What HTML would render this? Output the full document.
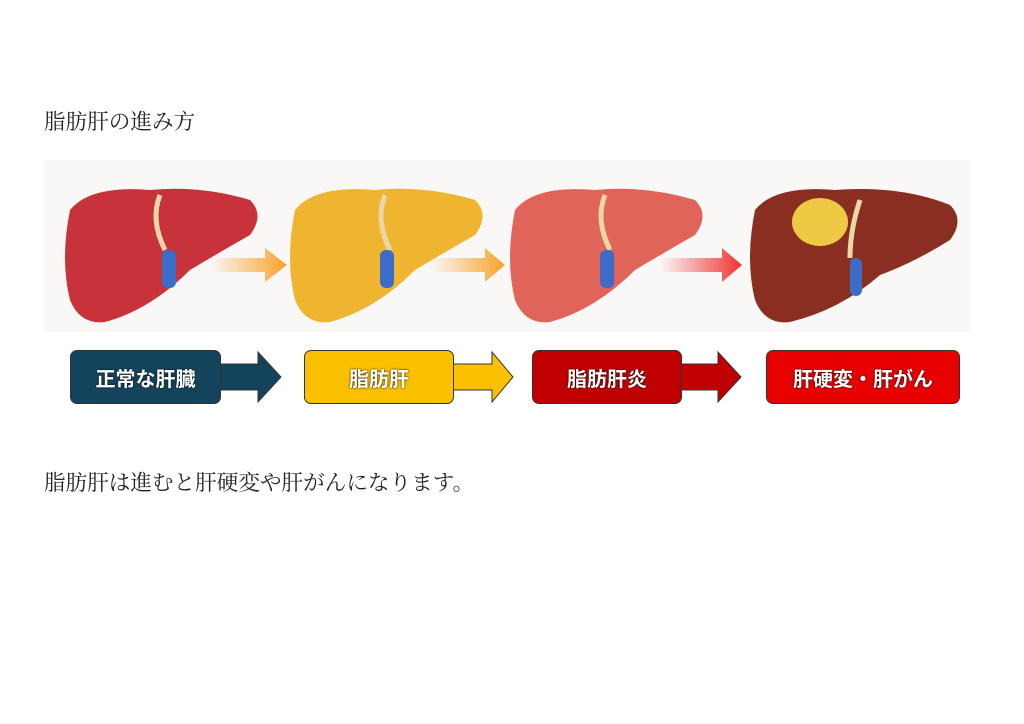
<!DOCTYPE html>
<html><head><meta charset="utf-8"><style>
body{margin:0;width:1024px;height:724px;background:#fff;position:relative;overflow:hidden;font-family:"Liberation Serif","Noto Serif CJK SC",serif}
.t{position:absolute;left:44px;font-size:21.6px;color:#222;white-space:nowrap}
.b{position:absolute;top:350px;height:54px;border-radius:7px;border:1px solid #333;box-sizing:border-box;color:#fff;font-family:"Liberation Sans","Noto Sans CJK JP",sans-serif;font-weight:bold;font-size:20px;display:flex;align-items:center;justify-content:center;text-shadow:0 0 2px #000}
</style></head><body>
<div class="t" style="top:105px">脂肪肝の進み方</div>
<svg style="position:absolute;left:0;top:0" width="1024" height="724">
<defs>
<linearGradient id="a1" x1="0" x2="1"><stop offset="0" stop-color="#f7a32a" stop-opacity="0"/><stop offset="1" stop-color="#f7a32a"/></linearGradient>
<linearGradient id="a3" x1="0" x2="1"><stop offset="0" stop-color="#ee3333" stop-opacity="0"/><stop offset="1" stop-color="#ee3333"/></linearGradient>
</defs>
<rect x="44" y="160" width="926" height="172" fill="#f9f8f7"/>
<path d="M70 210 Q90 185 150 190 Q200 185 250 200 Q265 215 250 235 Q215 255 190 270 Q150 310 105 322 Q80 325 70 300 Q60 260 70 210Z" fill="#c8323a"/>
<path d="M295 210 Q315 185 375 190 Q425 185 475 200 Q490 215 475 235 Q440 255 415 270 Q375 310 330 322 Q305 325 295 300 Q285 260 295 210Z" fill="#f0b530"/>
<path d="M515 210 Q535 185 595 190 Q645 185 695 200 Q710 215 695 235 Q660 255 635 270 Q595 310 550 322 Q525 325 515 300 Q505 260 515 210Z" fill="#e0645a"/>
<path d="M755 210 Q775 185 835 190 Q900 185 950 205 Q965 220 950 240 Q915 262 880 275 Q840 310 790 322 Q765 325 755 300 Q745 260 755 210Z" fill="#8a2e22"/>
<path d="M160 195 Q150 220 165 250" stroke="#e9d7a8" stroke-width="5" fill="none"/>
<path d="M385 195 Q375 220 390 250" stroke="#e9d7a8" stroke-width="5" fill="none"/>
<path d="M605 195 Q595 220 610 250" stroke="#e9d7a8" stroke-width="5" fill="none"/>
<path d="M860 200 Q850 230 850 258" stroke="#e9d7a8" stroke-width="5" fill="none"/>
<ellipse cx="820" cy="222" rx="28" ry="24" fill="#efc844"/>
<rect x="162" y="250" width="14" height="38" rx="6" fill="#3a6cc8"/>
<rect x="380" y="250" width="14" height="38" rx="6" fill="#3a6cc8"/>
<rect x="600" y="250" width="14" height="38" rx="6" fill="#3a6cc8"/>
<rect x="850" y="258" width="12" height="38" rx="6" fill="#3a6cc8"/>
<path d="M210 258 H265 V248 L287 265 L265 282 V272 H210Z" fill="url(#a1)"/>
<path d="M430 258 H485 V248 L505 265 L485 282 V272 H430Z" fill="url(#a1)"/>
<path d="M660 258 H722 V248 L742 265 L722 282 V272 H660Z" fill="url(#a3)"/>
<path d="M215 364 H258 V352 L281 377 L258 402 V390 H215Z" fill="#14445c" stroke="#333"/>
<path d="M448 364 H492 V352 L513 377 L492 402 V390 H448Z" fill="#fbc000" stroke="#333"/>
<path d="M676 364 H718 V352 L741 377 L718 402 V390 H676Z" fill="#c00000" stroke="#333"/>
</svg>
<div class="b" style="left:70px;width:151px;background:#14445c">正常な肝臓</div>
<div class="b" style="left:304px;width:150px;background:#fbc000">脂肪肝</div>
<div class="b" style="left:532px;width:150px;background:#c00000">脂肪肝炎</div>
<div class="b" style="left:766px;width:194px;background:#e80000">肝硬変・肝がん</div>
<div class="t" style="top:466px">脂肪肝は進むと肝硬変や肝がんになります。</div>
</body></html>
